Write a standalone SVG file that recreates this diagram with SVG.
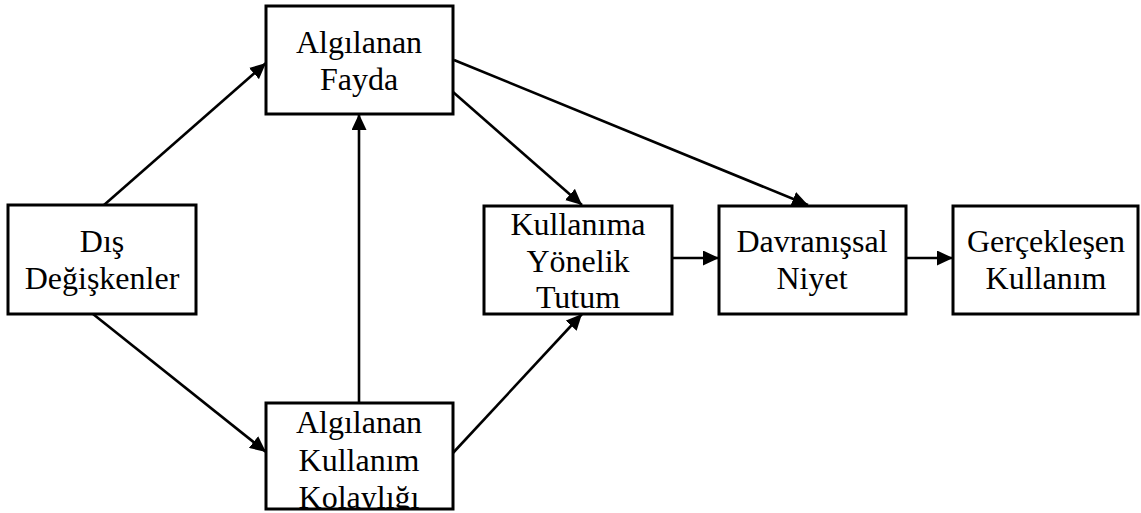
<svg xmlns="http://www.w3.org/2000/svg" width="1141" height="513" viewBox="0 0 1141 513">
  <style>
    .box { fill: #ffffff; stroke: #000000; stroke-width: 3; }
    .lbl { font-family: "Liberation Serif", "Times New Roman", serif; font-size: 32px; fill: #000000; text-anchor: middle; }
    .edge { fill: none; stroke: #000000; stroke-width: 2.6; marker-end: url(#head); }
  </style>
  <defs>
    <marker id="head" markerUnits="userSpaceOnUse" markerWidth="17" markerHeight="15" refX="16" refY="7.5" orient="auto">
      <path d="M0,0 L16,7.5 L0,15 z" fill="#000000"/>
    </marker>
    <clipPath id="clipPeou">
      <rect x="266" y="403" width="187" height="106"/>
    </clipPath>
  </defs>
  <rect width="1141" height="513" fill="#ffffff"/>

  <g id="connectors">
    <line class="edge" x1="104" y1="205" x2="266" y2="63"/>
    <line class="edge" x1="93" y1="314" x2="266" y2="452"/>
    <line class="edge" x1="359" y1="403" x2="359" y2="114"/>
    <line class="edge" x1="453" y1="92" x2="582" y2="205"/>
    <line class="edge" x1="454" y1="60" x2="808" y2="205"/>
    <line class="edge" x1="452" y1="454" x2="582" y2="314"/>
    <line class="edge" x1="672" y1="258" x2="719" y2="258"/>
    <line class="edge" x1="906" y1="258" x2="953" y2="258"/>
  </g>

  <g id="node-pu">
    <rect class="box" x="266" y="6" width="187" height="108"/>
    <text class="lbl" x="359" y="53">Algılanan</text>
    <text class="lbl" x="359" y="90">Fayda</text>
  </g>

  <g id="node-ext">
    <rect class="box" x="8" y="205" width="188" height="109"/>
    <text class="lbl" x="102" y="252">Dış</text>
    <text class="lbl" x="102" y="289">Değişkenler</text>
  </g>

  <g id="node-peou">
    <rect class="box" x="266" y="403" width="187" height="106"/>
    <g clip-path="url(#clipPeou)">
      <text class="lbl" x="359" y="433">Algılanan</text>
      <text class="lbl" x="359" y="471">Kullanım</text>
      <text class="lbl" x="359" y="508">Kolaylığı</text>
    </g>
  </g>

  <g id="node-att">
    <rect class="box" x="484" y="206" width="188" height="108"/>
    <text class="lbl" x="578" y="235">Kullanıma</text>
    <text class="lbl" x="578" y="272">Yönelik</text>
    <text class="lbl" x="578" y="308">Tutum</text>
  </g>

  <g id="node-bi">
    <rect class="box" x="719" y="206" width="187" height="108"/>
    <text class="lbl" x="812" y="252">Davranışsal</text>
    <text class="lbl" x="812" y="289">Niyet</text>
  </g>

  <g id="node-use">
    <rect class="box" x="953" y="206" width="185" height="108"/>
    <text class="lbl" x="1046" y="252">Gerçekleşen</text>
    <text class="lbl" x="1046" y="289">Kullanım</text>
  </g>
</svg>
